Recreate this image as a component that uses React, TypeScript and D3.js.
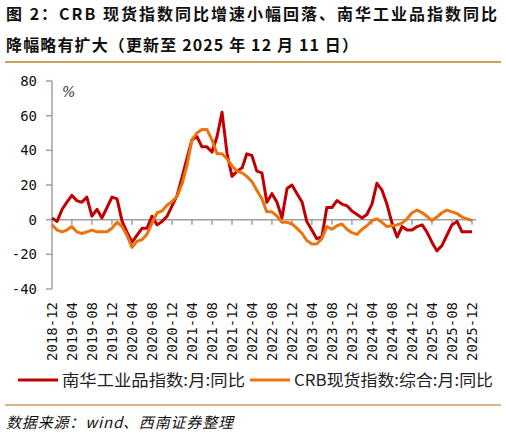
import * as d3 from "d3"

// months from 2018-12 to 2025-12
const START = new Date(2018, 11, 1)
const NANHUA = [
  1, -1, 6, 10, 14, 11, 10, 13, 2, 6, 1, 7, 13, 12, -1, -7, -13, -9, -5, -5, 2, -3, -1, 2, 8,
  14, 25, 35, 46, 48, 42, 42, 39, 48, 62, 38, 25, 28, 30, 38, 37, 28, 27, 10, 15, 10, 1, 18,
  20, 15, 10, -1, -6, -11, -10, 7, 7, 11, 9, 8, 5, 3, 1, 3, 9, 21, 17, 9, -2, -10, -4, -6, -6,
  -4, -3, -7, -13, -18, -15, -9, -3, -1, -7, -7, -7,
]
const CRB = [
  -3, -6, -7, -6, -4, -7, -8, -7, -6, -7, -7, -7, -5, -1.5, -4, -9, -16, -12.5, -11.5, -8.5,
  -2, 4, 5, 8.5, 10.5, 13.5, 21, 31, 46, 50, 52, 52, 46, 38, 38, 35, 31, 28, 27, 25, 22, 17,
  12, 4.5, 4.5, 2, -1.5, -1.5, -2.5, -5, -8, -12, -14, -14, -11, -4, -5.5, -3.5, -2.5, -5.5,
  -7.5, -8.5, -5.5, -3.5, -0.5, 0.5, -1.5, -4, -3.5, -3, -2, 0.5, 4, 5.5, 4, 2, -0.5, 1.5, 4,
  5.5, 4.5, 3.5, 1.5, 0.5, -0.5,
]
const Y_TICKS = [80, 60, 40, 20, 0, -20, -40]
const SERIES_NAMES = ["南华工业品指数:月:同比", "CRB现货指数:综合:月:同比"]
const COLORS = ["#c00000", "#ea7510"]

const dates = NANHUA.map((_, i) => d3.timeMonth.offset(START, i))
const xTicks = d3.range(0, NANHUA.length, 4).map((i) => dates[i])

export default function App() {
  const x = d3.scaleTime().domain([dates[0], dates[dates.length - 1]]).range([52, 472])
  const y = d3.scaleLinear().domain([-40, 80]).range([289, 81])
  const line = d3
    .line<number>()
    .x((_, i) => x(dates[i]))
    .y((d) => y(d))
  const fmt = d3.timeFormat("%Y-%m")
  const cjk = "'Noto Sans CJK SC', sans-serif"
  const mono = "'DejaVu Sans Mono', monospace"

  return (
    <svg width={506} height={436} style={{ position: "absolute", left: 0, top: 0, background: "#fff" }}>
      <text x={6} y={20} fontFamily={cjk} fontWeight={700} fontSize={16} fill="#111" textLength={491} lengthAdjust="spacing">
        图 2：CRB 现货指数同比增速小幅回落、南华工业品指数同比
      </text>
      <text x={6} y={51} fontFamily={cjk} fontWeight={700} fontSize={16} fill="#111" textLength={352} lengthAdjust="spacing">
        降幅略有扩大（更新至 2025 年 12 月 11 日）
      </text>
      <line x1={5} x2={501} y1={62} y2={62} stroke="#caa060" strokeWidth={2} />

      {/* y axis */}
      <line x1={52} x2={52} y1={81} y2={289} stroke="#a0a0a0" strokeWidth={1.5} />
      {Y_TICKS.map((t) => (
        <g key={t}>
          <line x1={46} x2={52} y1={y(t)} y2={y(t)} stroke="#a0a0a0" strokeWidth={1.5} />
          <text x={37} y={y(t)} dy="0.35em" textAnchor="end" fontFamily={mono} fontSize={14} fill="#111">
            {t}
          </text>
        </g>
      ))}
      <text x={62} y={97} fontFamily="'DejaVu Serif', serif" fontStyle="italic" fontSize={14} fill="#333">
        %
      </text>

      {/* zero line with month ticks */}
      <line x1={52} x2={476} y1={y(0)} y2={y(0)} stroke="#a0a0a0" strokeWidth={1.5} />
      {xTicks.map((d) => (
        <g key={+d}>
          <line x1={x(d)} x2={x(d)} y1={y(0)} y2={y(0) + 5} stroke="#a0a0a0" strokeWidth={1.5} />
          <text
            transform={`translate(${x(d) + 5},302) rotate(-90)`}
            textAnchor="end"
            fontFamily={mono}
            fontSize={14}
            fill="#111"
          >
            {fmt(d)}
          </text>
        </g>
      ))}

      {[NANHUA, CRB].map((s, k) => (
        <path key={k} d={line(s) ?? ""} fill="none" stroke={COLORS[k]} strokeWidth={3} strokeLinejoin="round" />
      ))}

      {/* legend */}
      <line x1={18} x2={58} y1={380} y2={380} stroke={COLORS[0]} strokeWidth={3} />
      <text x={62} y={386} fontFamily={cjk} fontSize={16} fill="#222" textLength={183} lengthAdjust="spacingAndGlyphs">
        {SERIES_NAMES[0]}
      </text>
      <line x1={250} x2={290} y1={380} y2={380} stroke={COLORS[1]} strokeWidth={3} />
      <text x={294} y={386} fontFamily={cjk} fontSize={16} fill="#222" textLength={199} lengthAdjust="spacingAndGlyphs">
        {SERIES_NAMES[1]}
      </text>

      <line x1={5} x2={501} y1={405} y2={405} stroke="#caa060" strokeWidth={1.5} />
      <text x={6} y={428} fontFamily={cjk} fontStyle="italic" fontSize={15} fill="#111" textLength={227} lengthAdjust="spacing">
        数据来源：wind、西南证券整理
      </text>
    </svg>
  )
}
